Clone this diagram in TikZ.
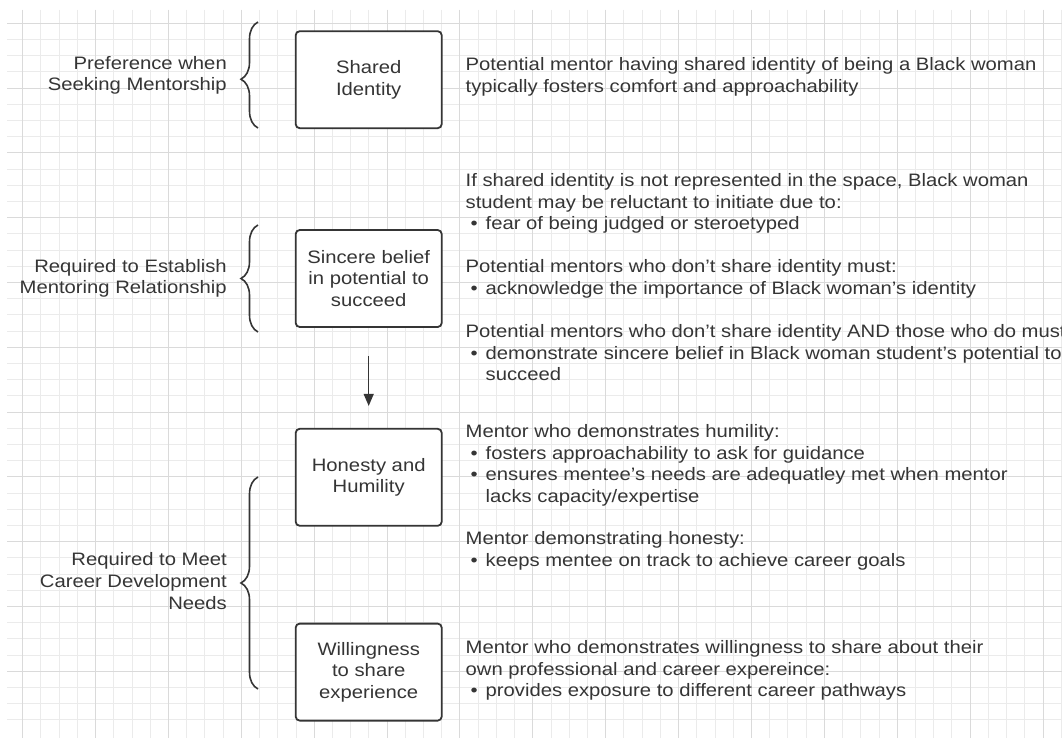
\documentclass[tikz,border=0pt]{standalone}
\usepackage{fontspec}
\setmainfont{Liberation Sans}[FakeStretch=1.125]
\usepackage{xcolor}
\usepackage{tikz}
\usetikzlibrary{positioning,arrows.meta,decorations.pathreplacing}
\definecolor{ink}{HTML}{353535}
\definecolor{gridminor}{HTML}{EBEBEB}
\definecolor{gridmajor}{HTML}{DADADA}
\newcommand\blt[1]{\makebox[20pt][l]{\hspace{5pt}•}#1}

\begin{document}
\begin{tikzpicture}[x=1pt,y=-1pt,font=\fontsize{18}{21.6}\selectfont,text=ink,
  theme/.style={draw=ink,fill=white,line width=1.8pt,rounded corners=4pt,minimum width=146pt,minimum height=97pt,align=center,inner sep=2pt},
  side/.style={align=right,anchor=east,inner sep=0pt},
  note/.style={align=left,anchor=base west,inner sep=0pt},
  brc/.style={draw=ink,line width=1.6pt,decorate,decoration={brace,amplitude=17pt}}]
\path[use as bounding box] (0,0) rectangle (1062,738);
\clip (0,0) rectangle (1062,738);
\fill[white] (0,0) rectangle (1062,738);

\foreach \k in {0,...,58} \draw[gridminor,line width=1pt] ({22.7+18.22*\k},10)--({22.7+18.22*\k},738);
\foreach \k in {0,...,43} \draw[gridminor,line width=1pt] (7,{23.3+16.2*\k})--(1062,{23.3+16.2*\k});
\foreach \k in {0,4,...,56} \draw[gridmajor,line width=1pt] ({22.7+18.22*\k},10)--({22.7+18.22*\k},738);
\foreach \k in {0,4,...,40} \draw[gridmajor,line width=1pt] (7,{23.3+16.2*\k})--(1062,{23.3+16.2*\k});

\node[theme] (shared) at (368.7,79.7) {Shared\\Identity};
\node[theme,below=100pt of shared] (belief) {Sincere belief\\in potential to\\succeed};
\node[theme,below=100pt of belief] (honest) {Honesty and\\Humility};
\node[theme,below=96pt of honest] (willing) {Willingness\\to share\\experience};

\draw[color=ink,line width=1.2pt,-{Triangle[width=10pt,length=12pt]},shorten <=28pt,shorten >=22pt] (belief)--(honest);

\node[side] (pref) at (227,75.5) {Preference when\\Seeking Mentorship};
\node[side] (estab) at (227,278.5) {Required to Establish\\Mentoring Relationship};
\node[side] (career) at (227,581) {Required to Meet\\Career Development\\Needs};

\draw[brc,decoration={aspect=0.46}] (258,128)--(258,22);
\draw[brc] (258,332)--(258,225);
\draw[brc] (258,689)--(258,477);

\node[note] (identnote) at (465.5,92.1) {Potential mentor having shared identity of being a Black woman\\typically fosters comfort and approachability};
\node[note] (reluctnote) at (465.5,229.7) {If shared identity is not represented in the space, Black woman\\student may be reluctant to initiate due to:\\\blt{fear of being judged or steroetyped}};
\node[note] (acknote) at (465.5,294.1) {Potential mentors who don't share identity must:\\\blt{acknowledge the importance of Black woman's identity}};
\node[note] (beliefnote) at (465.5,380.7) {Potential mentors who don't share identity AND those who do must\\\blt{demonstrate sincere belief in Black woman student's potential to}\\\hspace*{20pt}succeed};
\node[note] (humilnote) at (465.5,502.3) {Mentor who demonstrates humility:\\\blt{fosters approachability to ask for guidance}\\\blt{ensures mentee's needs are adequatley met when mentor}\\\hspace*{20pt}lacks capacity/expertise};
\node[note] (honestnote) at (465.5,566.1) {Mentor demonstrating honesty:\\\blt{keeps mentee on track to achieve career goals}};
\node[note] (willnote) at (465.5,696.7) {Mentor who demonstrates willingness to share about their\\own professional and career expereince:\\\blt{provides exposure to different career pathways}};
\end{tikzpicture}
\end{document}
